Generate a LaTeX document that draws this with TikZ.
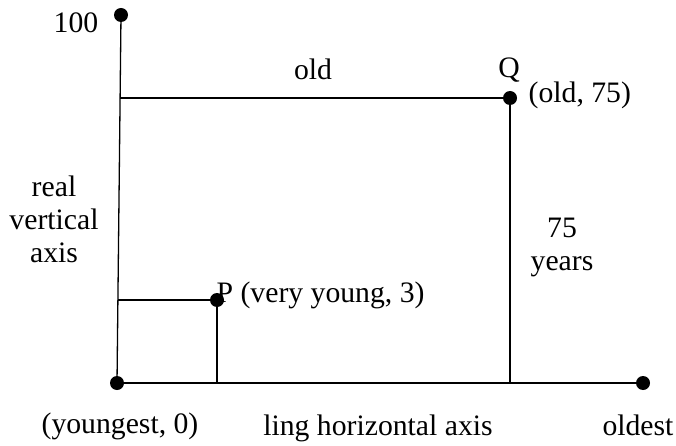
\documentclass[tikz,border=0pt]{standalone}
\usepackage{fontspec}
\setmainfont{Liberation Serif}
\usepackage{tikz}
\usetikzlibrary{positioning}

\begin{document}
\begin{tikzpicture}[x=10pt,y=10pt,line width=1.3pt,
    font=\fontsize{29.7}{33}\selectfont,
    dot/.style={circle,fill=black,inner sep=0pt,minimum size=14pt},
    lbl/.style={inner sep=0pt,anchor=base}]
  \useasboundingbox (0,0) rectangle (67.6,44.5);
  % the dots
  \node[dot] (O)     at (11.7,6.2)  {};
  \node[dot] (top)   at (12.1,43.0) {};
  \node[dot] (right) at (64.3,6.2)  {};
  \node[dot] (Q)     at (51.0,34.7) {};
  \node[dot] (P)     at (21.7,14.5) {};
  \coordinate (axQ) at (12.0,34.7);
  \coordinate (axP) at (11.8,14.5);
  \coordinate (footQ) at (51.0,6.2);
  \coordinate (footP) at (21.7,6.2);
  % axes and guide lines
  \draw (O.center) -- (top.center);
  \draw (O.center) -- (right.center);
  \draw (axQ) -- (Q.center);
  \draw (Q.center) -- (footQ);
  \draw (axP) -- (P.center);
  \draw (P.center) -- (footP);
  % labels (multi-line ones sit on their last line)
  \node[lbl] (hundred) at (7.6,41.2) {100};
  \node[lbl] (oldlbl)  at (31.3,36.5) {old};
  \node[lbl] (Qlbl)    at (50.9,36.7) {Q};
  \node[lbl,anchor=base west] (Qval) at (52.8,34.2) {(old, 75)};
  \node[lbl,align=center] (vert) at (5.4,18.3) {real\\vertical\\axis};
  \node[lbl,align=center] (years) at (56.2,17.5) {75\\years};
  \node[lbl,anchor=base west] (Pval) at (21.6,14.3) {P (very young, 3)};
  \node[lbl] (young)  at (12.0,1.2) {(youngest, 0)};
  \node[lbl] (horiz)  at (37.8,1.0) {ling horizontal axis};
  \node[lbl] (oldest) at (63.8,1.0) {oldest};
\end{tikzpicture}
\end{document}
